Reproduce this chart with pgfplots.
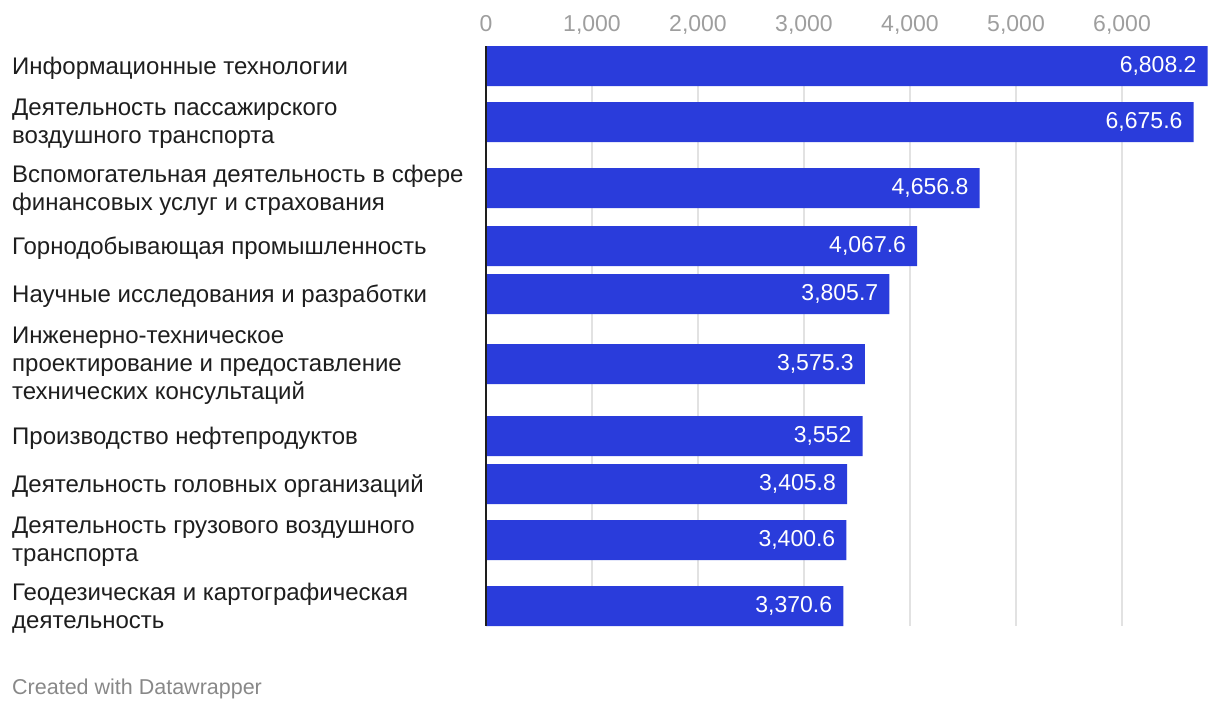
\documentclass[border=0pt]{standalone}
\usepackage{fontspec}
\setmainfont{Liberation Sans}
\usepackage{pgfplots}
\usepackage{pgfplotstable}
\pgfplotsset{compat=1.18}
\definecolor{barblue}{HTML}{2A3CDB}
\definecolor{gridgray}{HTML}{E2E2E2}
\definecolor{tickgray}{HTML}{9E9E9E}
\definecolor{labblack}{HTML}{1E1E1E}
\definecolor{footgray}{HTML}{888888}

\pgfplotstableread{
x y lab
6808.2 -66 6,808.2
6675.6 -122 6,675.6
4656.8 -188 4,656.8
4067.6 -246 4,067.6
3805.7 -294 3,805.7
3575.3 -364 3,575.3
3552 -436 3,552
3405.8 -484 3,405.8
3400.6 -540 3,400.6
3370.6 -606 3,370.6
}\datatable

\begin{document}
\begin{tikzpicture}[x=1pt,y=1pt]
\useasboundingbox (0,0) rectangle (1220,-712);
\begin{axis}[
  at={(486pt,-626pt)}, anchor=south west,
  scale only axis, width=724pt, height=580pt,
  xmin=0, xmax=6830, ymin=-626, ymax=-46,
  clip=false,
  axis line style={draw=none},
  major tick length=0pt,
  xtick={0,1000,2000,3000,4000,5000,6000},
  xticklabel pos=upper,
  xmajorgrids,
  grid style={color=gridgray, line width=1.3pt},
  xticklabel style={anchor=base, yshift=15pt, inner sep=0pt, text=tickgray,
    font=\fontsize{23}{27}\selectfont,
    /pgf/number format/1000 sep={,},
    /pgf/number format/assume math mode=true},
  ytick={-66,-122,-188,-246,-294,-364,-436,-484,-540,-606},
  yticklabels={
    {Информационные технологии},
    {Деятельность пассажирского\\воздушного транспорта},
    {Вспомогательная деятельность в сфере\\финансовых услуг и страхования},
    {Горнодобывающая промышленность},
    {Научные исследования и разработки},
    {Инженерно-техническое\\проектирование и предоставление\\технических консультаций},
    {Производство нефтепродуктов},
    {Деятельность головных организаций},
    {Деятельность грузового воздушного\\транспорта},
    {Геодезическая и картографическая\\деятельность}},
  yticklabel style={anchor=west, xshift=-474pt, yshift=-2pt, inner sep=0pt, align=left,
    text=labblack, font=\fontsize{24}{28}\selectfont},
]
\addplot[xbar, fill=barblue, draw=none, bar width=40pt,
  nodes near coords, point meta=explicit symbolic,
  nodes near coords align={left},
  nodes near coords style={anchor=east, text=white, inner sep=0pt, xshift=-11pt,
    font=\fontsize{23}{27}\selectfont}]
  table[x=x, y=y, meta=lab] {\datatable};
\draw[color=labblack, line width=2pt] (axis cs:0,-46) -- (axis cs:0,-626);
\end{axis}
\node[anchor=base west, inner sep=0pt, text=footgray, font=\fontsize{21.5}{25}\selectfont]
  at (12,-694) {Created with Datawrapper};
\end{tikzpicture}
\end{document}
